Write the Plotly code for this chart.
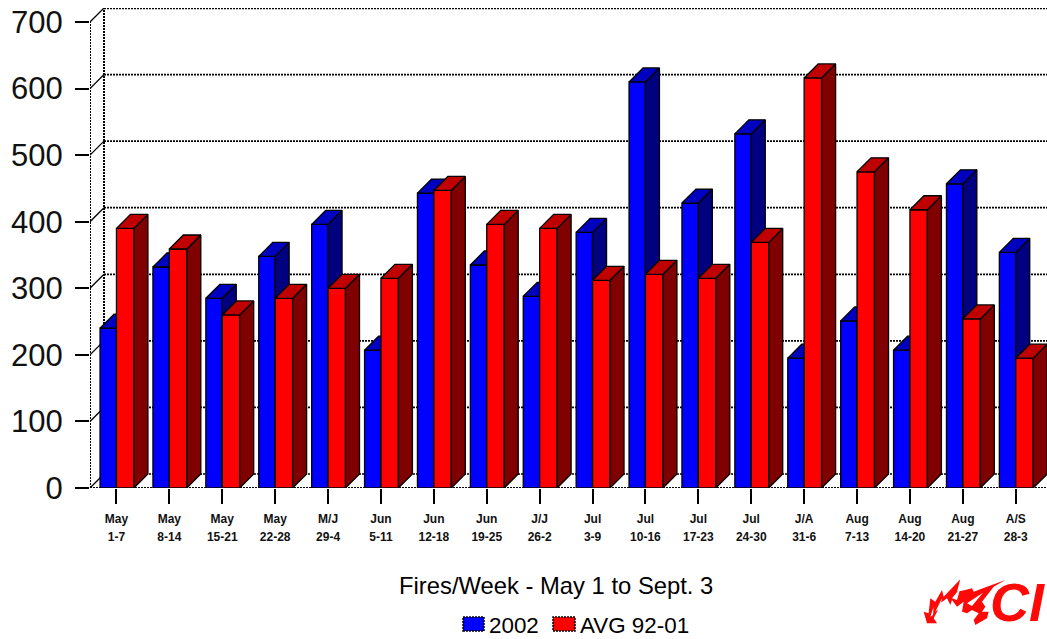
import plotly.graph_objects as go

months = ["May","May","May","May","M/J","Jun","Jun","Jun","J/J","Jul","Jul","Jul","Jul","J/A","Aug","Aug","Aug","A/S"]
days = ["1-7","8-14","15-21","22-28","29-4","5-11","12-18","19-25","26-2","3-9","10-16","17-23","24-30","31-6","7-13","14-20","21-27","28-3"]
fires_2002 = [240,332,285,348,396,207,443,335,288,384,610,428,532,195,251,207,457,354]
avg_92_01 = [390,359,260,285,300,315,447,396,390,312,321,315,369,616,475,418,254,195]
y_ticks = [0,100,200,300,400,500,600,700]

W, H = 1047, 639
L, T, R_, B = 90, 8, 1047, 488
GROUP = 52.9
PX_PER_VAL = 0.6657
DX = 14 / GROUP
DY = 14 / PX_PER_VAL
BLUE_W = 0.31
RED_W = 0.33
xr = [-0.5, -0.5 + (R_ - L) / GROUP]
yr = [0, (B - T) / PX_PER_VAL]
BLK = "black"

fig = go.Figure()

def line(xs, ys, width=1.7, dash="2px,1px"):
    fig.add_trace(go.Scatter(x=xs, y=ys, mode="lines", line=dict(color=BLK, width=width, dash=dash),
                             hoverinfo="skip", showlegend=False, cliponaxis=False, xaxis="x", yaxis="y"))

# back wall, gridlines, left wall
x0 = xr[0]
x1 = xr[1]
for v in y_ticks:
    line([x0 + DX, x1], [v + DY, v + DY], width=2.4 if v == 700 else 1.7)
    line([x0, x0 + DX], [v, v + DY], width=1.3, dash="solid")
line([x0, x0], [0, 700], width=2)
line([x0 + DX, x0 + DX], [DY, 700 + DY], width=2)
line([x0, x1], [0, 0], width=2)

def faces(x_left, width, vals, top_col, side_col, xa, ya):
    for i, v in enumerate(vals):
        a = i + x_left
        b = a + width
        fig.add_trace(go.Scatter(x=[b, b + DX, b + DX, b, b], y=[0, DY, v + DY, v, 0], mode="lines", fill="toself",
                                 fillcolor=side_col, line=dict(color=BLK, width=1.3), hoverinfo="skip",
                                 showlegend=False, xaxis=xa, yaxis=ya))
        fig.add_trace(go.Scatter(x=[a, a + DX, b + DX, b, a], y=[v, v + DY, v + DY, v, v], mode="lines", fill="toself",
                                 fillcolor=top_col, line=dict(color=BLK, width=1.3), hoverinfo="skip",
                                 showlegend=False, xaxis=xa, yaxis=ya))

xs = list(range(len(months)))
fig.add_trace(go.Bar(x=xs, y=fires_2002, name="2002", offset=-BLUE_W, width=BLUE_W, marker=dict(color="#0000ff", line=dict(color=BLK, width=1.3)),
                     xaxis="x2", yaxis="y2", showlegend=False))
faces(-BLUE_W, BLUE_W, fires_2002, "#0000c0", "#000080", "x2", "y2")
fig.add_trace(go.Bar(x=xs, y=avg_92_01, name="AVG 92-01", offset=0, width=RED_W, marker=dict(color="#ff0000", line=dict(color=BLK, width=1.3)),
                     xaxis="x3", yaxis="y3", showlegend=False))
faces(0, RED_W, avg_92_01, "#c00000", "#800000", "x3", "y3")

shapes = []
for c, x_a, x_b in [("#0000ff", 463, 484), ("#ff0000", 553, 575)]:
    shapes.append(dict(type="rect", xref="paper", yref="paper",
                       x0=(x_a - L) / (R_ - L), x1=(x_b - L) / (R_ - L),
                       y0=(B - 631) / (B - T), y1=(B - 617) / (B - T),
                       fillcolor=c, line=dict(color=BLK, width=1.5, dash="2px,1px")))
# flame logo outline
def P(x, y):
    return f"{(x - L) / (R_ - L):.4f},{(B - y) / (B - T):.4f}"
def logo_path(points, color):
    pts = [(907 + a / 3, 570 + b / 3) for a, b in points]
    return dict(type="path", xref="paper", yref="paper", fillcolor=color, line=dict(width=0),
                path="M" + " L".join(P(*p) for p in pts) + " Z")
flame_zoom = [(60,160),(50,125),(65,130),(70,85),(85,95),(105,60),(110,80),(160,28),(150,65),(175,60),(195,55),(200,65),(240,50),(295,30),
              (260,50),(225,95),(235,110),(225,125),(245,125),(240,145),(205,165),(200,150),(215,130),(195,120),(180,130),(165,125),
              (170,95),(150,110),(135,90),(130,105),(120,85),(100,100),(90,125),(80,145),(90,160)]
shapes.append(logo_path(flame_zoom, "#ff0808"))
for sliver in [[(85,125),(105,85),(100,112)], [(135,85),(160,55),(150,90)], [(180,100),(228,68),(195,108)], [(70,140),(80,110),(78,135)]]:
    shapes.append(logo_path(sliver, "white"))

def note(text, x, y, size, anchor="left", color=BLK, font="Liberation Sans"):
    return dict(text=text, xref="paper", yref="paper", x=(x - L) / (R_ - L), y=(B - y) / (B - T),
                xanchor=anchor, yanchor="middle", showarrow=False,
                font=dict(family=font, size=size, color=color))

annots = [
    note("Fires/Week - May 1 to Sept. 3", 556, 585, 23.8, "center"),
    note("2002", 487, 625, 22.4),
    note("AVG 92-01", 578, 625, 22.4),
    note("<b><i>CI</i></b>", 988, 602, 54, color="#ff0808"),
]

hidden = dict(visible=False)
tickbold = dict(family="Liberation Sans", size=12, color="#111", weight=700)
fig.update_layout(
    width=W, height=H, margin=dict(l=L, r=W - R_, t=T, b=H - B), paper_bgcolor="white", plot_bgcolor="white",
    showlegend=False, shapes=shapes, annotations=annots, barmode="overlay",
    font=dict(family="Liberation Sans", color=BLK),
    xaxis=dict(range=xr, tickmode="array", tickvals=xs, ticktext=months, tickangle=0, ticks="outside", ticklen=15,
               tickwidth=1.5, tickcolor=BLK, showgrid=False, zeroline=False, showline=False, ticklabelstandoff=5,
               tickfont=tickbold),
    yaxis=dict(range=yr, tickmode="array", tickvals=y_ticks, ticks="outside", ticklen=14, tickwidth=1.5, tickcolor=BLK,
               showgrid=False, zeroline=False, showline=False, ticklabelstandoff=6,
               tickfont=dict(family="Liberation Sans", size=31, color="#111")),
    xaxis2=dict(range=xr, overlaying="x", **hidden),
    yaxis2=dict(range=yr, overlaying="y", **hidden),
    xaxis3=dict(range=xr, overlaying="x", **hidden),
    yaxis3=dict(range=yr, overlaying="y", **hidden),
    xaxis4=dict(range=xr, overlaying="x", anchor="y", side="bottom", tickmode="array", tickvals=xs, ticktext=days, tickangle=0,
                ticks="outside", ticklen=15, tickcolor="rgba(0,0,0,0)", showgrid=False, zeroline=False, showline=False,
                ticklabelstandoff=23, tickfont=tickbold),
)
# fourth x axis only carries the second row of tick labels
fig.add_trace(go.Scatter(x=xs, y=[None] * len(xs), xaxis="x4", yaxis="y", showlegend=False, hoverinfo="skip"))
fig.write_html("out.html", post_script="document.body.style.margin='0';", config={"displayModeBar": False})
